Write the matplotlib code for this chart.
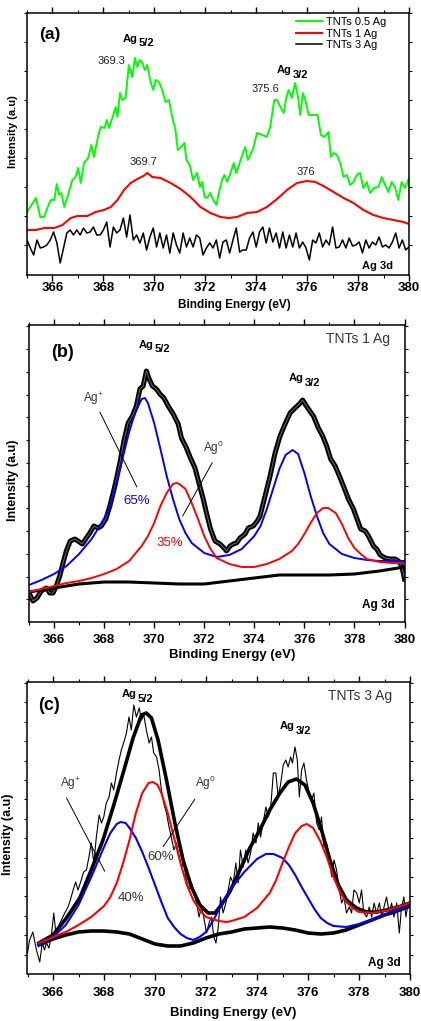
import numpy as np
import matplotlib
matplotlib.use('Agg')
import matplotlib.pyplot as plt

plt.rcParams['font.family'] = ['Liberation Sans', 'DejaVu Sans']
plt.rcParams['mathtext.fontset'] = 'custom'
plt.rcParams['mathtext.rm'] = 'Liberation Sans'
plt.rcParams['mathtext.it'] = 'Liberation Sans:italic'
plt.rcParams['mathtext.bf'] = 'Liberation Sans:bold'

# ---------------- data (intensity in arbitrary units) ----------------
# (a) survey of the three samples
a_green_x = [365.0, 365.35, 365.52, 365.67, 365.80, 365.93, 366.07, 366.17, 366.26, 366.35,
             366.46, 366.59, 366.78, 366.91, 367.01, 367.11, 367.24, 367.40, 367.53, 367.63,
             367.76, 367.89, 368.05, 368.13, 368.22, 368.35, 368.48, 368.55, 368.65, 368.74,
             368.87, 369.00, 369.13, 369.24, 369.33, 369.43, 369.53, 369.62, 369.72, 369.85,
             369.96, 370.05, 370.18, 370.31, 370.44, 370.57, 370.70, 370.83, 370.92, 371.05,
             371.18, 371.26, 371.39, 371.52, 371.68, 371.79, 371.88, 371.97, 372.07, 372.20,
             372.31, 372.44, 372.53, 372.66, 372.75, 372.86, 372.99, 373.12, 373.22, 373.35,
             373.48, 373.57, 373.67, 373.77, 373.90, 374.03, 374.23, 374.42, 374.55, 374.71,
             374.82, 374.95, 375.08, 375.18, 375.27, 375.40, 375.53, 375.64, 375.73, 375.83,
             375.93, 376.06, 376.25, 376.41, 376.54, 376.67, 376.84, 376.93, 377.04, 377.17,
             377.30, 377.43, 377.56, 377.69, 377.82, 377.95, 378.08, 378.21, 378.34, 378.47,
             378.63, 378.80, 378.93, 379.06, 379.19, 379.32, 379.45, 379.58, 379.71, 379.84,
             380.0]
a_green_y = [63, 77, 58, 58, 67, 75, 75, 91, 80, 82,
             68, 78, 95, 98, 107, 92, 112, 117, 130, 118,
             135, 148, 147, 155, 147, 157, 168, 158, 182, 175,
             177, 210, 198, 217, 208, 215, 212, 205, 210, 193,
             185, 195, 193, 185, 173, 175, 158, 145, 125, 128,
             132, 115, 110, 95, 102, 88, 93, 78, 77, 82,
             75, 70, 82, 95, 100, 93, 102, 112, 102, 112,
             122, 128, 115, 120, 128, 142, 140, 138, 148, 175,
             175, 168, 162, 177, 185, 177, 192, 178, 160, 182,
             175, 160, 160, 160, 140, 138, 143, 118, 122, 120,
             112, 98, 100, 90, 93, 100, 102, 87, 93, 82,
             87, 88, 98, 90, 83, 93, 88, 75, 93, 87,
             97]

a_red_x = [365.0, 365.35, 365.67, 366.07, 366.39, 366.72, 366.98, 367.37, 367.70, 368.02,
           368.29, 368.55, 368.81, 369.07, 369.33, 369.57, 369.72, 369.92, 370.24, 370.64,
           371.03, 371.42, 371.81, 372.20, 372.60, 372.92, 373.25, 373.64, 374.03, 374.42,
           374.82, 375.21, 375.60, 375.99, 376.32, 376.64, 377.04, 377.43, 377.82, 378.21,
           378.60, 378.99, 379.39, 379.78, 380.0]
a_red_y = [45, 45, 47, 47, 50, 57, 59, 59, 63, 65,
           68, 75, 85, 92, 96, 99, 102, 98, 97, 92,
           86, 78, 68, 62, 58, 57, 58, 62, 63, 68,
           76, 85, 92, 94, 93, 89, 83, 77, 72, 65,
           60, 57, 55, 53, 51]

# TNTs 3 Ag, sampled on an even energy grid from 365 to 380 eV
a_black_y = [35, 27, 20, 35, 27, 28, 30, 35, 43, 32,
             12, 27, 42, 45, 40, 45, 40, 47, 42, 43,
             48, 40, 40, 45, 53, 28, 48, 42, 45, 57,
             38, 60, 35, 40, 32, 42, 25, 38, 47, 28,
             42, 27, 40, 22, 42, 30, 22, 42, 28, 37,
             28, 40, 37, 20, 27, 32, 27, 35, 17, 33,
             35, 22, 35, 47, 23, 25, 25, 37, 43, 28,
             43, 48, 32, 47, 33, 42, 27, 43, 27, 40,
             28, 42, 27, 33, 27, 15, 35, 32, 42, 28,
             35, 30, 48, 27, 28, 35, 27, 37, 29, 30,
             33, 22, 35, 27, 33, 30, 38, 28, 30, 27,
             33, 42, 27, 35, 25, 28]

# (b) TNTs 1 Ag
b_data_x = [365.0, 365.16, 365.32, 365.49, 365.69, 365.83, 365.96, 366.09, 366.23, 366.36,
            366.49, 366.65, 366.83, 366.96, 367.13, 367.29, 367.43, 367.59, 367.76, 367.89,
            368.07, 368.23, 368.43, 368.63, 368.79, 368.96, 369.13, 369.29, 369.43, 369.56,
            369.69, 369.80, 369.93, 370.09, 370.23, 370.39, 370.56, 370.76, 370.96, 371.09,
            371.29, 371.45, 371.63, 371.80, 371.96, 372.09, 372.25, 372.43, 372.63, 372.79,
            372.89, 373.03, 373.16, 373.29, 373.43, 373.63, 373.76, 373.96, 374.12, 374.23,
            374.43, 374.63, 374.83, 375.03, 375.23, 375.43, 375.63, 375.80, 375.93, 376.03,
            376.16, 376.36, 376.56, 376.73, 376.89, 377.05, 377.23, 377.40, 377.56, 377.76,
            377.96, 378.09, 378.25, 378.43, 378.56, 378.76, 378.89, 379.03, 379.23, 379.43,
            379.63, 379.76, 379.89, 380.0]
b_data_y = [29, 21, 24, 31, 34, 29, 29, 36, 46, 59,
            71, 81, 83, 81, 78, 84, 89, 96, 94, 96,
            103, 116, 136, 159, 181, 199, 206, 216, 233, 236,
            251, 243, 236, 233, 228, 224, 216, 208, 198, 184,
            174, 164, 154, 138, 123, 109, 93, 81, 78, 74,
            71, 76, 78, 79, 84, 88, 94, 96, 101, 106,
            126, 146, 169, 186, 198, 209, 214, 218, 222, 218,
            213, 206, 194, 186, 176, 163, 156, 146, 136, 123,
            113, 104, 93, 91, 86, 76, 73, 67, 64, 63,
            63, 61, 56, 43]

b_blue_x = [365.0, 365.5, 366.0, 366.5, 367.0, 367.5, 368.0, 368.25, 368.5, 368.75,
            369.0, 369.25, 369.5, 369.63, 369.75, 370.0, 370.25, 370.5, 370.75, 371.0,
            371.25, 371.5, 372.0, 372.5, 373.0, 373.5, 374.0, 374.25, 374.5, 374.75,
            375.0, 375.25, 375.53, 375.75, 376.0, 376.25, 376.5, 376.75, 377.0, 377.5,
            378.0, 378.5, 379.0, 379.5, 380.0]
b_blue_y = [37, 42, 48, 56, 68, 83, 103, 116, 140, 165,
            190, 210, 223, 224, 219, 199, 173, 146, 123, 103,
            89, 79, 69, 65, 67, 73, 86, 96, 113, 133,
            153, 167, 172, 168, 149, 126, 106, 89, 78, 68,
            64, 62, 61, 61, 61]

b_red_x = [365.0, 365.5, 366.0, 366.5, 367.0, 367.5, 368.0, 368.5, 369.0, 369.5,
           369.75, 370.0, 370.25, 370.5, 370.75, 370.9, 371.0, 371.25, 371.5, 371.75,
           372.0, 372.25, 372.5, 373.0, 373.5, 374.0, 374.5, 375.0, 375.5, 375.75,
           376.0, 376.25, 376.5, 376.75, 376.95, 377.25, 377.5, 377.75, 378.0, 378.25,
           378.5, 379.0, 379.5, 380.0]
b_red_y = [30, 33, 36, 39, 41, 44, 48, 53, 61, 76,
           86, 99, 116, 129, 138, 139, 138, 133, 119, 103,
           86, 73, 64, 58, 55, 55, 58, 63, 71, 78,
           88, 99, 109, 114, 114, 109, 98, 84, 74, 68,
           63, 60, 59, 59]

b_bg_x = [365, 366, 367, 368, 369, 370, 371, 372, 373, 374, 375, 376, 377, 378, 379, 380]
b_bg_y = [30, 34, 38, 40, 40, 39, 38, 38, 41, 44, 47, 47, 47, 48, 51, 55]

# (c) TNTs 3 Ag
c_raw_x = [365.0, 365.08, 365.21, 365.35, 365.48, 365.58, 365.67, 365.74, 365.84, 365.93,
           366.03, 366.10, 366.20, 366.33, 366.46, 366.59, 366.68, 366.79, 366.89, 366.98,
           367.11, 367.20, 367.31, 367.41, 367.50, 367.60, 367.70, 367.81, 367.90, 367.99,
           368.09, 368.20, 368.29, 368.38, 368.49, 368.59, 368.68, 368.77, 368.88, 368.98,
           369.07, 369.17, 369.27, 369.38, 369.47, 369.56, 369.66, 369.77, 369.86, 369.95,
           370.06, 370.16, 370.25, 370.34, 370.45, 370.55, 370.64, 370.74, 370.84, 370.95,
           371.04, 371.13, 371.23, 371.34, 371.43, 371.52, 371.63, 371.73, 371.82, 371.91,
           372.02, 372.12, 372.21, 372.31, 372.39, 372.48, 372.57, 372.67, 372.78, 372.87,
           372.96, 373.07, 373.17, 373.26, 373.35, 373.46, 373.56, 373.65, 373.75, 373.85,
           373.96, 374.05, 374.14, 374.24, 374.35, 374.44, 374.53, 374.64, 374.74, 374.83,
           374.92, 375.03, 375.13, 375.22, 375.32, 375.39, 375.49, 375.58, 375.66, 375.75,
           375.84, 375.94, 376.05, 376.14, 376.23, 376.34, 376.44, 376.53, 376.62, 376.73,
           376.83, 376.93, 377.02, 377.12, 377.23, 377.32, 377.41, 377.51, 377.62, 377.71,
           377.80, 377.91, 378.01, 378.10, 378.19, 378.30, 378.40, 378.50, 378.59, 378.69,
           378.80, 378.89, 378.98, 379.08, 379.19, 379.28, 379.37, 379.48, 379.58, 379.67,
           379.76, 379.84, 379.93, 380.0]
c_raw_y = [21, 34, 42, 24, 12, 31, 24, 31, 26, 37,
           61, 44, 47, 54, 61, 67, 74, 84, 92, 84,
           94, 102, 104, 117, 131, 111, 137, 159, 151, 157,
           171, 177, 191, 184, 201, 214, 224, 231, 241, 257,
           244, 269, 257, 266, 254, 259, 244, 231, 237, 221,
           217, 204, 184, 171, 161, 147, 137, 124, 131, 117,
           107, 111, 94, 84, 91, 81, 71, 57, 67, 57,
           41, 51, 57, 37, 31, 47, 77, 61, 71, 84,
           97, 91, 111, 91, 124, 107, 124, 111, 121, 141,
           131, 151, 137, 151, 167, 157, 164, 201, 201, 177,
           189, 209, 214, 207, 217, 211, 227, 214, 177, 204,
           211, 194, 181, 174, 181, 151, 144, 157, 127, 131,
           117, 97, 114, 104, 84, 71, 77, 61, 67, 61,
           84, 81, 71, 84, 61, 57, 67, 57, 71, 61,
           71, 57, 67, 77, 61, 71, 57, 71, 41, 67,
           77, 57, 71, 67]

c_fit_x = [365.45, 366.0, 366.5, 367.05, 367.5, 367.96, 368.36, 368.75, 369.14, 369.47,
           369.66, 369.86, 370.12, 370.45, 370.78, 371.1, 371.43, 371.76, 372.08, 372.35,
           372.6, 372.93, 373.33, 373.72, 374.11, 374.5, 374.9, 375.22, 375.55, 375.88,
           376.2, 376.53, 376.86, 377.19, 377.51, 377.9, 378.3, 378.69, 379.08, 379.54,
           380.0]
c_fit_y = [31, 39, 55, 76, 104, 134, 167, 201, 236, 259,
           261, 256, 234, 194, 151, 114, 87, 69, 61, 61,
           69, 82, 104, 126, 144, 164, 181, 192, 195, 189,
           171, 144, 114, 89, 74, 66, 62, 62, 64, 67,
           71]

c_blue_x = [365.45, 366.0, 366.5, 367.0, 367.5, 368.0, 368.25, 368.5, 368.65, 368.85,
            369.0, 369.25, 369.5, 369.75, 370.0, 370.25, 370.5, 370.75, 371.0, 371.25,
            371.5, 371.75, 372.0, 372.25, 372.5, 372.75, 373.0, 373.5, 374.0, 374.35,
            374.65, 375.0, 375.25, 375.5, 375.75, 376.0, 376.25, 376.5, 376.75, 377.0,
            377.5, 378.0, 378.5, 379.0, 379.5, 380.0]
c_blue_y = [29, 37, 49, 69, 97, 127, 141, 150, 152, 151,
            146, 136, 122, 106, 89, 72, 56, 47, 40, 36,
            34, 37, 42, 52, 64, 76, 86, 102, 115, 120,
            120, 116, 109, 99, 87, 76, 65, 56, 51, 48,
            47, 50, 54, 59, 64, 69]

c_red_x = [365.45, 366.0, 366.5, 367.0, 367.5, 368.0, 368.25, 368.5, 368.75, 369.0,
           369.25, 369.5, 369.75, 369.92, 370.1, 370.25, 370.5, 370.75, 371.0, 371.25,
           371.5, 371.75, 372.0, 372.5, 372.8, 373.0, 373.5, 374.0, 374.5, 374.75,
           375.0, 375.25, 375.5, 375.75, 375.95, 376.2, 376.5, 376.75, 377.0, 377.25,
           377.5, 377.75, 378.0, 378.5, 379.0, 379.5, 380.0]
c_red_y = [31, 37, 42, 49, 57, 68, 77, 91, 111, 134,
           161, 181, 191, 192, 189, 181, 161, 136, 111, 89,
           74, 64, 57, 53, 52, 53, 57, 66, 81, 94,
           111, 127, 141, 148, 150, 146, 132, 116, 97, 82,
           72, 66, 62, 61, 63, 67, 71]

c_bg_x = [365.45, 366.0, 366.5, 367.0, 367.5, 368.0, 368.5, 369.0, 369.5, 370.0,
          370.5, 371.0, 371.5, 372.0, 372.5, 373.0, 373.5, 374.0, 374.5, 375.0,
          375.5, 376.0, 376.5, 377.0, 377.5, 378.0, 378.5, 379.0, 379.5, 380.0]
c_bg_y = [29, 35, 39, 42, 43, 43, 42, 40, 35, 30,
          28, 28, 31, 36, 40, 42, 45, 46, 47, 46,
          44, 41, 40, 41, 44, 49, 54, 59, 63, 68]

legend_labels = ['TNTs 0.5 Ag', 'TNTs 1 Ag', 'TNTs 3 Ag']

# ---------------- figure ----------------
W, H = 421, 1021
fig = plt.figure(figsize=(W / 100, H / 100), dpi=100)


def box(left, right, top, bottom):
    return [left / W, 1 - bottom / H, (right - left) / W, (bottom - top) / H]


def ftext(x, y, s, **kw):
    fig.text(x / W, 1 - y / H, s, **kw)


def style(ax, ymax, step, first, pad):
    ax.set_xlim(365, 380)
    ax.set_ylim(0, ymax)
    ax.set_xticks(np.arange(366, 381, 2))
    ax.set_xticks(np.arange(365, 381, 1), minor=True)
    ax.set_yticks(np.arange(first, ymax + 1, step))
    ax.set_yticklabels([])
    ax.tick_params(axis='x', which='major', direction='out', length=4, width=1,
                   labelsize=9.5, pad=pad, top=True)
    ax.tick_params(axis='x', which='minor', direction='out', length=2.5, width=0.8, top=True)
    ax.tick_params(axis='y', which='both', direction='out', length=2.5, width=0.8,
                   left=True, right=True)
    for lab in ax.get_xticklabels():
        lab.set_fontweight('bold')
    for s in ax.spines.values():
        s.set_linewidth(1.1)


def ag_label(ax, x, y, sub):
    ax.text(x, y, 'Ag', fontsize=8, fontweight='bold', ha='left', va='center')
    ax.text(x + 0.63, y - 4.5, sub, fontsize=8, fontweight='bold', ha='left', va='center')


def pointer(ax, start, end):
    ax.annotate('', xy=end, xytext=start,
                arrowprops=dict(arrowstyle='-', lw=0.7, color='black', shrinkA=0, shrinkB=0))


# ---- (a)
ax = fig.add_axes(box(27, 409, 13, 275))
ax.plot(a_green_x, a_green_y, color='#00ff00', lw=1.4, label=legend_labels[0])
ax.plot(a_red_x, a_red_y, color='#ff0000', lw=1.5, label=legend_labels[1])
ax.plot(np.linspace(365, 380, len(a_black_y)), a_black_y, color='black', lw=1.1,
        label=legend_labels[2])
style(ax, 262, 29, 30, 1.0)
ax.legend(loc='upper left', bbox_to_anchor=(0.705, 0.985), frameon=False, fontsize=8,
          handlelength=2.3, handletextpad=0.4, labelspacing=0.15, borderaxespad=0,
          borderpad=0)
ax.text(365.9, 240, '(a)', fontsize=12.5, fontweight='bold', ha='center', va='center')
ag_label(ax, 368.75, 236, '5/2')
ag_label(ax, 374.82, 205, '3/2')
ax.text(368.31, 213.5, '369.3', fontsize=8, color='#222222', ha='center', va='center')
ax.text(369.59, 113, '369.7', fontsize=8, color='#222222', ha='center', va='center')
ax.text(374.37, 185.5, '375.6', fontsize=8, color='#222222', ha='center', va='center')
ax.text(375.96, 103, '376', fontsize=8, color='#222222', ha='center', va='center')
ax.text(378.75, 9, 'Ag 3d', fontsize=8, fontweight='bold', ha='center', va='center')
ftext(13, 132, 'Intensity (a.u)', fontsize=8, fontweight='bold', rotation=90,
      ha='center', va='center')
ftext(234, 305, 'Binding Energy (eV)', fontsize=8.5, fontweight='bold',
      ha='center', va='center')

# ---- (b)
ax = fig.add_axes(box(29, 404.5, 325, 622))
ax.plot(b_data_x, b_data_y, color='black', lw=3.6, solid_joinstyle='round')
ax.plot(b_data_x, b_data_y, color='#6a6a6a', lw=0.7)
ax.plot(b_bg_x, b_bg_y, color='black', lw=2.2)
ax.plot(b_blue_x, b_blue_y, color='#0000ff', lw=1.4)
ax.plot(b_red_x, b_red_y, color='#ff0000', lw=1.4)
style(ax, 297, 22.75, 22.7, 4.3)
ax.text(366.35, 269.5, '(b)', fontsize=13, fontweight='bold', ha='center', va='center')
ag_label(ax, 369.39, 277, '5/2')
ag_label(ax, 375.39, 244, '3/2')
ax.text(379.42, 283, 'TNTs 1 Ag', fontsize=10, color='#333333', ha='right', va='center')
ax.text(367.15, 223.5, r'Ag$^{+}$', fontsize=8.5, color='#333333', ha='left', va='center')
pointer(ax, (367.83, 210), (369.31, 135))
ax.text(371.95, 174.5, r'Ag$^{0}$', fontsize=8.5, color='#333333', ha='left', va='center')
pointer(ax, (372.32, 159.3), (371.14, 106))
ax.text(369.31, 121, '65%', fontsize=9.5, color='#0000ff', ha='center', va='center')
ax.text(370.63, 79, '35%', fontsize=9.5, color='#ff0000', ha='center', va='center')
ax.text(378.95, 17, 'Ag 3d', fontsize=8.5, fontweight='bold', ha='center', va='center')
ftext(13, 480, 'Intensity (a.u)', fontsize=9, fontweight='bold', rotation=90,
      ha='center', va='center')
ftext(232, 655, 'Binding Energy (eV)', fontsize=9.5, fontweight='bold',
      ha='center', va='center')

# ---- (c)
ax = fig.add_axes(box(27.5, 410, 682, 974))
ax.plot(c_raw_x, c_raw_y, color='black', lw=0.8)
ax.plot(c_fit_x, c_fit_y, color='black', lw=2.6)
ax.plot(c_bg_x, c_bg_y, color='black', lw=2.6)
ax.plot(c_blue_x, c_blue_y, color='#0000ff', lw=1.5)
ax.plot(c_red_x, c_red_y, color='#ff0000', lw=1.5)
style(ax, 292, 19.4, 19.4, 5.0)
ax.text(365.85, 268.5, '(c)', fontsize=13, fontweight='bold', ha='center', va='center')
ag_label(ax, 368.70, 280, '5/2')
ag_label(ax, 374.90, 248, '3/2')
ax.text(379.29, 278.5, 'TNTs 3 Ag', fontsize=10, color='#333333', ha='right', va='center')
ax.text(366.26, 190, r'Ag$^{+}$', fontsize=8.5, color='#333333', ha='left', va='center')
pointer(ax, (366.53, 176), (368.03, 102.7))
ax.text(371.56, 191, r'Ag$^{0}$', fontsize=8.5, color='#333333', ha='left', va='center')
pointer(ax, (371.56, 174.7), (370.32, 127.3))
ax.text(370.21, 117, '60%', fontsize=9.5, color='#333333', ha='center', va='center')
ax.text(369.06, 76.5, '40%', fontsize=9.5, color='#333333', ha='center', va='center')
ax.text(378.98, 11, 'Ag 3d', fontsize=8.5, fontweight='bold', ha='center', va='center')
ftext(8, 834, 'Intensity (a.u)', fontsize=9, fontweight='bold', rotation=90,
      ha='center', va='center')
ftext(233, 1013, 'Binding Energy (eV)', fontsize=9.5, fontweight='bold',
      ha='center', va='center')

fig.savefig('out.png', dpi=100)
